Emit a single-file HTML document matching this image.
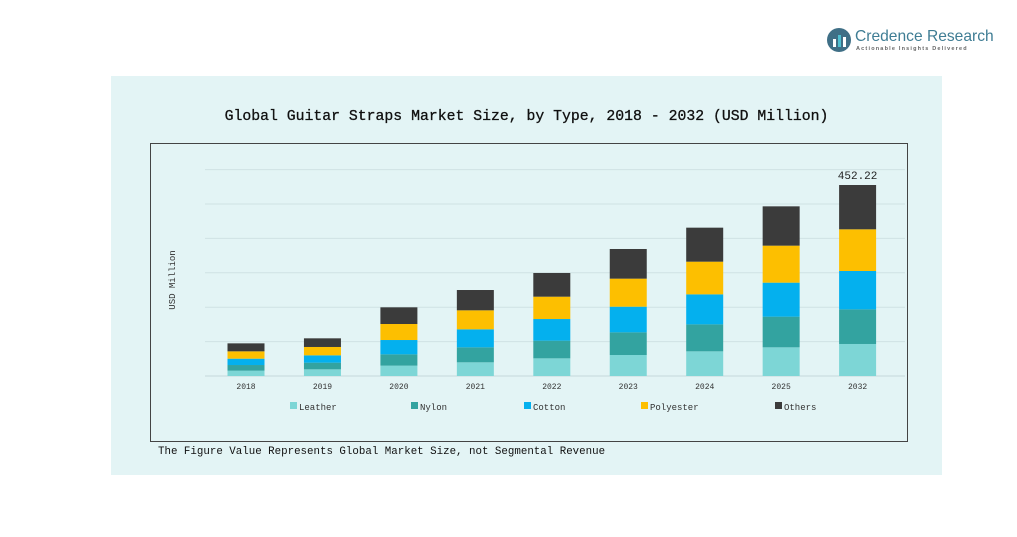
<!DOCTYPE html>
<html><head><meta charset="utf-8"><style>
body{margin:0;width:1017px;height:537px;background:#fff;position:relative;overflow:hidden;font-family:"Liberation Mono",monospace}
.abs{position:absolute}
</style></head><body>
<div class="abs" style="left:826px;top:27px;width:180px;height:30px">
<svg width="28" height="28" class="abs" style="left:0;top:0"><circle cx="13" cy="13" r="12" fill="#3f6f86"/><rect x="7" y="12" width="3" height="8" fill="#fff"/><rect x="12" y="8" width="3" height="12" fill="#4fc0d0"/><rect x="17" y="10" width="3" height="10" fill="#fff"/></svg>
<div class="abs" style="left:29px;top:1px;font-family:'Liberation Sans',sans-serif;font-size:15.6px;color:#3f7d94;white-space:nowrap">Credence Research</div>
<div class="abs" style="left:30px;top:19px;font-family:'Liberation Sans',sans-serif;font-size:5.5px;font-weight:bold;letter-spacing:1.2px;color:#666;white-space:nowrap">Actionable Insights Delivered</div>
</div>
<div class="abs" style="left:111px;top:76px;width:831px;height:399px;background:#e3f4f5"></div>
<div class="abs" style="left:111px;width:831px;top:109px;text-align:center;font-size:14.8px;color:#111;white-space:nowrap;-webkit-text-stroke:0.3px #111">Global Guitar Straps Market Size, by Type, 2018 - 2032 (USD Million)</div>
<div class="abs" style="left:150px;top:143px;width:756px;height:297px;border:1px solid #444"></div>
<div class="abs" style="left:158px;top:446px;font-size:10.8px;color:#111;white-space:nowrap">The Figure Value Represents Global Market Size, not Segmental Revenue</div>
<svg id="chart" class="abs" style="left:0;top:0" width="1017" height="537"></svg>
<script>
const categories=["2018","2019","2020","2021","2022","2023","2024","2025","2032"];
const seriesNames=["Leather","Nylon","Cotton","Polyester","Others"];
const leather=[12.6,15.8,24.5,32.4,41.8,49.7,58.4,67.9,75.8];
const nylon=[13.4,15.8,26.8,35.5,41.9,53.7,63.9,72.6,82.0];
const cotton=[15.0,17.3,33.9,42.6,51.2,60.7,71.0,80.5,90.8];
const polyester=[17.4,19.8,37.9,45.0,52.9,66.4,77.4,87.6,98.7];
const others=[18.9,20.5,39.5,48.1,56.1,70.2,80.5,93.1,104.92];
const totalLabel="452.22";
const colors=["#7dd6d6","#33a3a0","#04b0ee","#fdbf00","#3b3b3b"];
const series=[leather,nylon,cotton,polyester,others];
const NS="http://www.w3.org/2000/svg";
const svg=document.getElementById('chart');
const base=376,pxPerUnit=191/452.22;
const y=v=>base-v*pxPerUnit;
const x=i=>246+i*76.45;
const bw=37;
function mk(t,a){const e=document.createElementNS(NS,t);for(const k in a)e.setAttribute(k,a[k]);svg.appendChild(e);return e;}
for(let g=0;g<=6;g++){const l=mk('line',{x1:205,x2:905,y1:base-g*34.4,y2:base-g*34.4,stroke:g?'#cfe2e4':'#c5d8da','stroke-width':1});

}
categories.forEach((c,i)=>{let cum=0;
series.forEach((s,k)=>{const r=mk('rect',{x:x(i)-bw/2,y:y(cum+s[i]),width:bw,height:s[i]*pxPerUnit,fill:colors[k]});


cum+=s[i];});
const t=mk('text',{x:x(i),y:389,'text-anchor':'middle','font-size':8,fill:'#333','font-family':'Liberation Mono, monospace'});t.textContent=c;


if(i===categories.length-1){const tl=mk('text',{x:x(i),y:y(cum)-6,'text-anchor':'middle','font-size':11,fill:'#222','font-family':'Liberation Mono, monospace'});tl.textContent=totalLabel;

}
});
const lx=[290,411,524,641,775];
seriesNames.forEach((n,k)=>{const r=mk('rect',{x:lx[k],y:402,width:7,height:7,fill:colors[k]});


const t=mk('text',{x:lx[k]+9,y:410,'font-size':9,fill:'#333','font-family':'Liberation Mono, monospace'});t.textContent=n;

});
const yt=mk('text',{x:0,y:0,transform:'translate(175,280) rotate(-90)','text-anchor':'middle','font-size':9,fill:'#333','font-family':'Liberation Mono, monospace'});yt.textContent='USD Million';


</script>
</body></html>
